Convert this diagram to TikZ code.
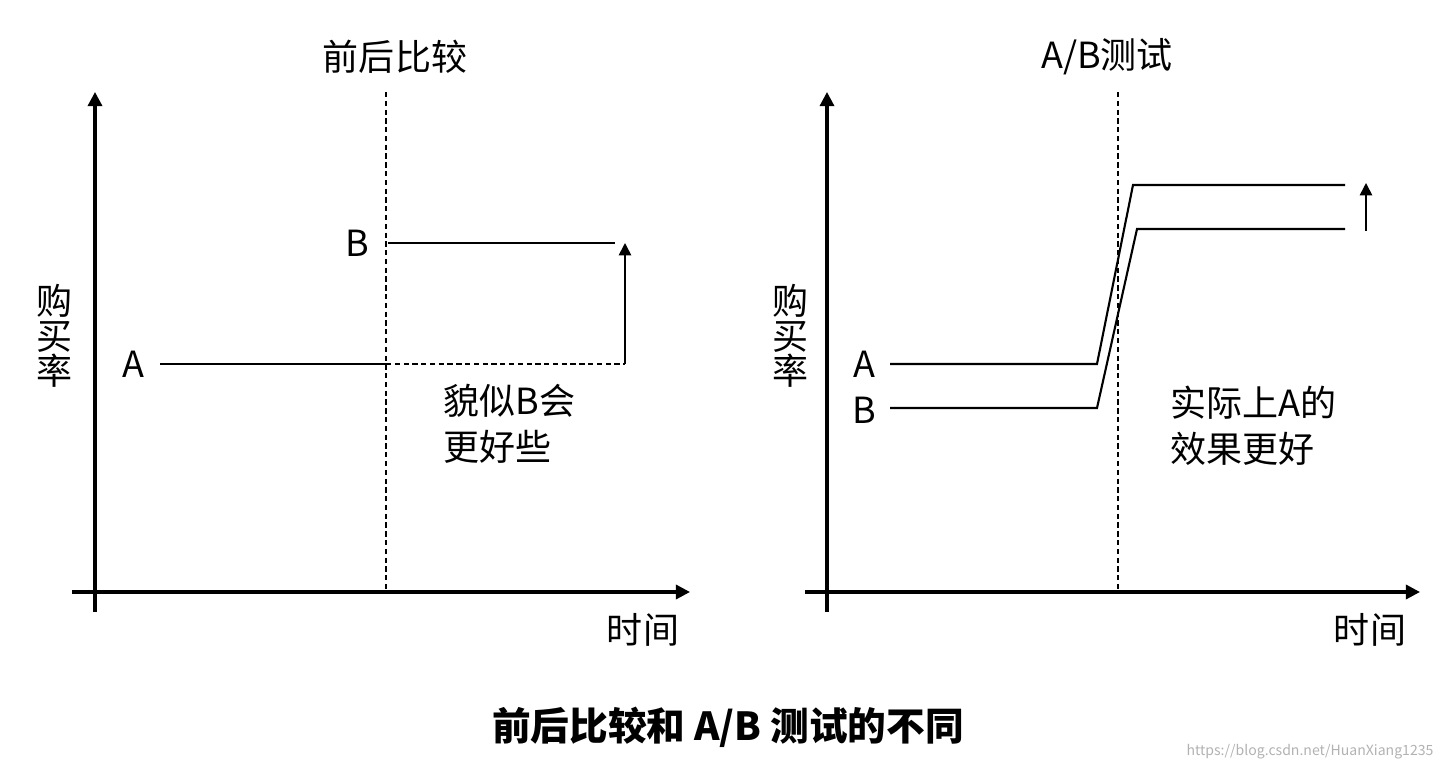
\documentclass[tikz,border=0pt]{standalone}
\usepackage{fontspec}
\setmainfont{Noto Sans CJK SC}
\usetikzlibrary{arrows.meta}
\begin{document}
\begin{tikzpicture}[x=0.02cm,y=-0.02cm,
 axis/.style={line width=1.8pt,-{Triangle[length=8pt,width=8pt]}},
 dline/.style={line width=1.2pt},
 dashline/.style={line width=0.6pt,dash pattern=on 3pt off 2pt},
 lab/.style={font=\fontsize{20.5}{24}\selectfont,inner sep=0pt},
 uparrow/.style={line width=0.9pt,-{Triangle[length=7pt,width=7pt]}}]
\useasboundingbox (0,0) rectangle (1454,770);
% left chart
\coordinate (lo) at (95,612); \coordinate (lt) at (95,92);
\coordinate (lxs) at (72,592); \coordinate (lxe) at (690,592);
\draw[axis] (lo) -- (lt);
\draw[axis] (lxs) -- (lxe);
\coordinate (ld1) at (386,92); \coordinate (ld2) at (386,592);
\draw[dashline] (ld1) -- (ld2);
\coordinate (la1) at (160,364); \coordinate (la2) at (386,364); \coordinate (la3) at (625,364);
\coordinate (lb1) at (388,243); \coordinate (lb2) at (615,243); \coordinate (lup) at (625,243);
\draw[dline] (la1) -- (la2);
\draw[dashline] (la2) -- (la3);
\draw[dline] (lb1) -- (lb2);
\draw[uparrow] (la3) -- (lup);
\node[lab] (lA) at (133,364) {A};
\node[lab] (lB) at (357,243) {B};
\node[lab] (lt1) at (395,57) {前后比较};
\node[lab,align=center] (ly) at (55,336) {购\\[-4pt]买\\[-4pt]率};
\node[lab] (lx) at (643,630) {时间};
\node[lab,align=left,anchor=north west] (lnote) at (443,384) {貌似B会\\[2pt]更好些};
% right chart
\coordinate (ro) at (827,612); \coordinate (rt) at (827,92);
\coordinate (rxs) at (805,592); \coordinate (rxe) at (1420,592);
\draw[axis] (ro) -- (rt);
\draw[axis] (rxs) -- (rxe);
\coordinate (rd1) at (1118,92); \coordinate (rd2) at (1118,592);
\draw[dashline] (rd1) -- (rd2);
\coordinate (ra1) at (890,364); \coordinate (ra2) at (1097,364); \coordinate (ra3) at (1133,185); \coordinate (ra4) at (1345,185);
\coordinate (rb1) at (890,408); \coordinate (rb2) at (1097,408); \coordinate (rb3) at (1137,229); \coordinate (rb4) at (1345,229);
\draw[dline] (ra1) -- (ra2) -- (ra3) -- (ra4);
\draw[dline] (rb1) -- (rb2) -- (rb3) -- (rb4);
\coordinate (rup1) at (1366,231); \coordinate (rup2) at (1366,183);
\draw[uparrow] (rup1) -- (rup2);
\node[lab] (rA) at (864,364) {A};
\node[lab] (rB) at (864,410) {B};
\node[lab] (rt1) at (1107,57) {A/B测试};
\node[lab,align=center] (ry) at (790,336) {购\\[-4pt]买\\[-4pt]率};
\node[lab] (rx) at (1370,630) {时间};
\node[lab,align=left,anchor=north west] (rnote) at (1170,386) {实际上A的\\[2pt]效果更好};
% title
\node[font=\fontsize{22}{26}\selectfont\bfseries,inner sep=0pt] (title) at (728,727) {前后比较和 A/B 测试的不同};
\node[font=\fontsize{8}{9}\selectfont,text=gray!60,inner sep=0pt] (wm) at (1310,752) {https://blog.csdn.net/HuanXiang1235};
\end{tikzpicture}
\end{document}
